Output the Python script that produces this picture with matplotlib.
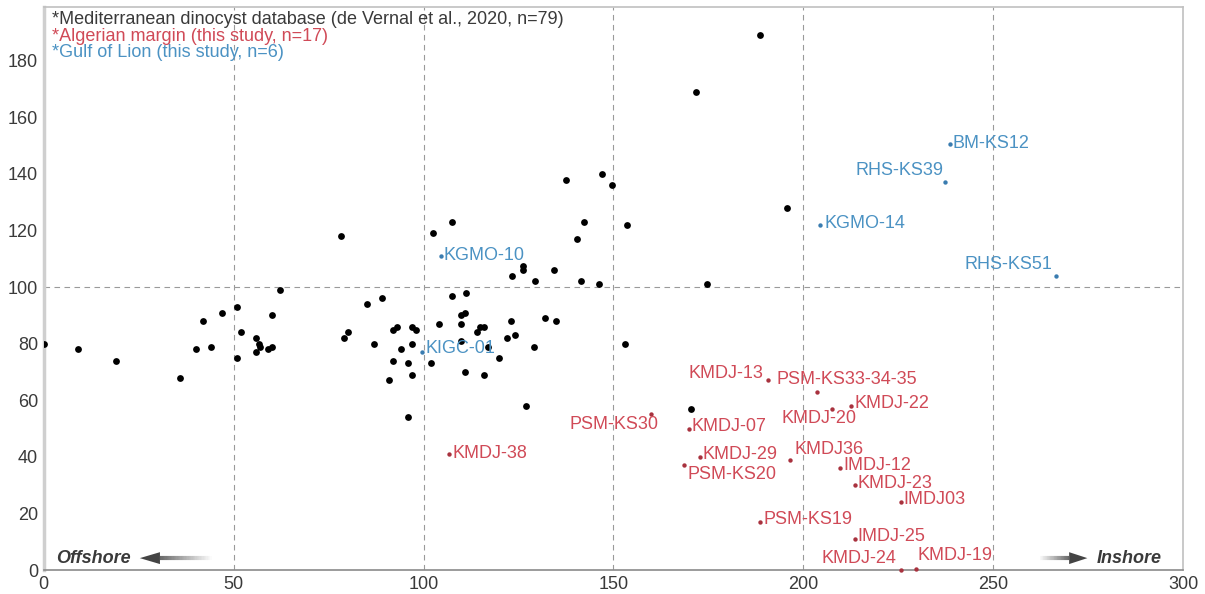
import numpy as np
import matplotlib
matplotlib.use('Agg')
import matplotlib.pyplot as plt
from matplotlib.collections import LineCollection
from matplotlib import rcParams

rcParams['font.family'] = ['Liberation Sans', 'DejaVu Sans']
rcParams['font.size'] = 13

# Mediterranean dinocyst database (n=79)
db_x = [0, 9.1, 19.1, 36, 40, 42, 44, 47, 51, 51, 52, 56, 56.7, 57, 56, 59, 60, 60,
        79, 80, 85, 89, 87, 91, 92, 93, 92, 94, 96, 97, 96, 97, 98, 97, 102, 104,
        110, 111, 110, 111, 110, 114, 115, 116, 116, 117, 120, 122, 123, 124, 127,
        129, 132, 135, 153, 170.5,
        78.4, 62.3, 102.4, 107.4, 107.4, 111.3, 123.4, 126.3, 126.3, 129.3, 134.3,
        137.4, 140.4, 142.3, 141.4, 146.2,
        146.9, 149.7, 153.7, 188.6, 171.7, 195.6, 174.7]
db_y = [80, 78, 74, 68, 78, 88, 79, 91, 93, 75, 84, 82, 80, 79, 77, 78, 79, 90,
        82, 84, 94, 96, 80, 67, 85, 86, 74, 78, 73, 69, 54, 86, 85, 80, 73, 87,
        90, 91, 87, 70, 81, 84, 86, 86, 69, 79, 75, 82, 88, 83, 58,
        79, 89, 88, 80, 57,
        118, 99, 119, 123, 97, 98, 104, 107.5, 106, 102, 106,
        138, 117, 123, 102, 101,
        140, 136, 122, 189, 169, 128, 101]

# Algerian margin (this study, n=17)
alg_names = ['KMDJ-13', 'PSM-KS33-34-35', 'KMDJ-20', 'KMDJ-22', 'PSM-KS30', 'KMDJ-07',
             'KMDJ-29', 'PSM-KS20', 'KMDJ36', 'IMDJ-12', 'KMDJ-23', 'IMDJ03',
             'PSM-KS19', 'IMDJ-25', 'KMDJ-24', 'KMDJ-19', 'KMDJ-38']
alg_x = [190.6, 203.7, 207.5, 212.6, 159.8, 169.8, 172.8, 168.7, 196.6, 209.7,
         213.5, 225.6, 188.7, 213.5, 225.6, 229.6, 106.8]
alg_y = [67, 63, 57, 58, 55, 50, 40, 37, 39, 36, 30, 24, 17, 11, 0, 0.5, 41]

# Gulf of Lion (this study, n=6)
gol_names = ['KGMO-10', 'KIGC-01', 'BM-KS12', 'RHS-KS39', 'KGMO-14', 'RHS-KS51']
gol_x = [104.5, 99.7, 238.5, 237.4, 204.5, 266.5]
gol_y = [111, 77, 150.5, 137, 122, 104]

# label offsets in pixels (dx, dy, ha)
alg_off = [(-4, 7, 'right'), (-41, 12, 'left'), (25, -10, 'right'), (3, 2, 'left'),
           (8, -10, 'right'), (3, 2, 'left'), (3, 2, 'left'), (3, -9, 'left'),
           (4, 10, 'left'), (3, 3, 'left'), (3, 2, 'left'), (3, 3, 'left'),
           (3, 2, 'left'), (3, 2, 'left'), (-4, 12, 'right'), (2, 13, 'left'),
           (3, 1, 'left')]
gol_off = [(3, 0, 'left'), (3, 4, 'left'), (3, 1, 'left'), (-2, 12, 'right'),
           (4, 1, 'left'), (-3, 11, 'right')]

red_txt, red_dot = '#d04a57', '#a8323e'
blue_txt, blue_dot = '#4b92c3', '#3a7cb0'
grey = '#3a3a3a'

fig = plt.figure(figsize=(12.05, 5.94), dpi=100)
ax = fig.add_axes([0.0363, 0.0404, 0.9455, 0.9478])

ax.scatter(db_x, db_y, s=24, color='black', zorder=3, linewidths=0)
ax.scatter(alg_x, alg_y, s=10, color=red_dot, zorder=3, linewidths=0, clip_on=False)
ax.scatter(gol_x, gol_y, s=10, color=blue_dot, zorder=3, linewidths=0)

for n, x, y, (dx, dy, ha) in zip(alg_names, alg_x, alg_y, alg_off):
    ax.annotate(n, (x, y), xytext=(dx, dy), textcoords='offset pixels',
                ha=ha, va='center', color=red_txt)
for n, x, y, (dx, dy, ha) in zip(gol_names, gol_x, gol_y, gol_off):
    ax.annotate(n, (x, y), xytext=(dx, dy), textcoords='offset pixels',
                ha=ha, va='center', color=blue_txt)

ax.set_xlim(0, 300)
ax.set_ylim(0, 199)
ax.set_xticks(np.arange(0, 301, 50))
ax.set_yticks(np.arange(0, 181, 20))
ax.tick_params(length=0, colors=grey, labelsize=13, pad=4)
for x in [50, 100, 150, 200, 250]:
    ax.axvline(x, color='#9a9a9a', lw=0.8, ls=(0, (5, 4)), zorder=1)
ax.axhline(100, color='#9a9a9a', lw=0.8, ls=(0, (5, 4)), zorder=1)

ax.spines['left'].set_color('#cfcfcf')
ax.spines['left'].set_linewidth(2.5)
ax.spines['bottom'].set_color('#8a8a8a')
ax.spines['bottom'].set_linewidth(1.2)
for s in ['top', 'right']:
    ax.spines[s].set_color('#c0c0c0')
    ax.spines[s].set_linewidth(1.2)

ax.text(0.007, 0.977, '*Mediterranean dinocyst database (de Vernal et al., 2020, n=79)',
        transform=ax.transAxes, color=grey, va='center')
ax.text(0.007, 0.948, '*Algerian margin (this study, n=17)',
        transform=ax.transAxes, color=red_txt, va='center')
ax.text(0.007, 0.919, '*Gulf of Lion (this study, n=6)',
        transform=ax.transAxes, color=blue_txt, va='center')

# offshore / inshore arrows with fading shafts
def fade_arrow(x_from, x_to, x_tip, y):
    xs = np.linspace(x_from, x_to, 40)
    segs = [[(xs[i], y), (xs[i + 1], y)] for i in range(len(xs) - 1)]
    alphas = np.linspace(0, 0.9, len(segs))
    cols = [(0.35, 0.35, 0.35, a) for a in alphas]
    ax.add_collection(LineCollection(segs, colors=cols, linewidths=3, zorder=4))
    ax.fill([x_to, x_tip, x_to], [y - 2.1, y, y + 2.1], color='#444444', lw=0, zorder=4)

fade_arrow(44.6, 30.6, 25.3, 4.2)
fade_arrow(262.0, 270.0, 274.8, 4.2)
ax.text(3.2, 4.2, 'Offshore', color=grey, fontweight='bold', fontstyle='italic',
        va='center', ha='left')
ax.text(294.5, 4.2, 'Inshore', color=grey, fontweight='bold', fontstyle='italic',
        va='center', ha='right')

fig.savefig('out.png', dpi=100)
